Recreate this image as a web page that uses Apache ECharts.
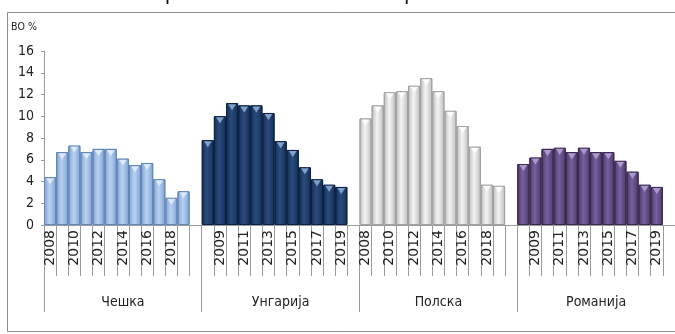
<!DOCTYPE html>
<html>
<head>
<meta charset="utf-8">
<script src="https://cdn.jsdelivr.net/npm/echarts@6/dist/echarts.min.js"></script>
<style>
  html, body { margin: 0; padding: 0; background: #ffffff; }
  #chart { width: 675px; height: 334px; }
</style>
</head>
<body>
<div id="chart"></div>
<script>
// Average unemployment rate, 2008–2019, in percent
const years = ['2008', '2009', '2010', '2011', '2012', '2013', '2014', '2015', '2016', '2017', '2018', '2019'];
const countries = ['Чешка', 'Унгарија', 'Полска', 'Романија'];
const czech   = [4.4, 6.7, 7.3, 6.7, 7.0, 7.0, 6.1, 5.5, 5.7, 4.2, 2.5, 3.1];
const hungary = [7.8, 10.0, 11.2, 11.0, 11.0, 10.3, 7.7, 6.9, 5.3, 4.2, 3.7, 3.5];
const poland  = [9.8, 11.0, 12.2, 12.3, 12.8, 13.5, 12.3, 10.5, 9.1, 7.2, 3.7, 3.6];
const romania = [5.6, 6.2, 7.0, 7.1, 6.7, 7.1, 6.7, 6.7, 5.9, 4.9, 3.7, 3.5];
const yTicks = { min: 0, max: 16, step: 2 };

const seriesValues = [czech, hungary, poland, romania];
const slotsPerGroup = years.length + 1; // one empty slot after each country

function cylinder(edge, mid) {
  return {
    type: 'linear', x: 0, y: 0, x2: 1, y2: 0,
    colorStops: [
      { offset: 0, color: edge },
      { offset: 0.45, color: mid },
      { offset: 1, color: edge }
    ]
  };
}

const styles = [
  { fill: cylinder('#7fa3d3', '#b9d1f0'), border: '#6286b8', cap: '#e4eefa' },
  { fill: cylinder('#142f56', '#2a4c7c'), border: '#0c2242', cap: '#8fb0db' },
  { fill: cylinder('#bdbdbd', '#f4f4f4'), border: '#a2a2a2', cap: '#ffffff' },
  { fill: cylinder('#4e3966', '#7660a0'), border: '#3a2a50', cap: '#b8a3d8' }
];

// Year labels along the axis, with a blank slot separating the countries;
// one bar series holds all countries, each bar styled by its country
const yearAxis = [];
const groupAxis = [];
const barData = [];
const capData = [];
countries.forEach(function (name, g) {
  years.forEach(function (y, i) {
    yearAxis.push(y);
    groupAxis.push(i === 6 ? name : '');
    barData.push({
      value: seriesValues[g][i],
      itemStyle: { color: styles[g].fill, borderColor: styles[g].border, borderWidth: 1 }
    });
    capData.push({
      value: seriesValues[g][i],
      itemStyle: { color: styles[g].cap }
    });
  });
  yearAxis.push('');
  groupAxis.push('');
  barData.push('-');
  capData.push('-');
});

const chart = echarts.init(document.getElementById('chart'), null, { renderer: 'canvas' });
chart.setOption({
  animation: false,
  backgroundColor: '#ffffff',
  title: {
    text: 'Просечна стапка на невработеност',
    left: 'center',
    top: -15,
    padding: 0,
    textStyle: { fontFamily: 'DejaVu Sans', fontSize: 20, fontWeight: 'normal', color: '#111' }
  },
  graphic: [{
    type: 'rect',
    shape: { x: 7.5, y: 12.5, width: 700, height: 319 },
    style: { fill: 'none', stroke: '#8c8c8c', lineWidth: 1 },
    z: -10,
    silent: true
  }],
  grid: { left: 44, right: -9, top: 51, bottom: 109, containLabel: false },
  xAxis: [{
    type: 'category',
    data: yearAxis,
    position: 'bottom',
    axisLine: { show: true, lineStyle: { color: '#9a9a9a', width: 1 } },
    axisTick: { show: true, interval: 0, length: 51, lineStyle: { color: '#9a9a9a' } },
    axisLabel: {
      interval: 1,
      rotate: 90,
      margin: 5,
      fontFamily: 'DejaVu Sans',
      fontSize: 14,
      color: '#222'
    },
    splitLine: { show: false }
  }, {
    type: 'category',
    data: groupAxis,
    position: 'bottom',
    axisLine: { show: false },
    axisTick: {
      show: true,
      interval: function (i) { return i % slotsPerGroup === 0; },
      length: 87,
      lineStyle: { color: '#9a9a9a' }
    },
    axisLabel: {
      interval: 0,
      margin: 70,
      fontFamily: 'Liberation Sans Narrow, DejaVu Sans Condensed, DejaVu Sans',
      fontSize: 14,
      color: '#222'
    },
    splitLine: { show: false }
  }],
  yAxis: {
    type: 'value',
    min: yTicks.min,
    max: yTicks.max,
    interval: yTicks.step,
    name: 'ВО %',
    nameLocation: 'end',
    nameGap: 24,
    nameTextStyle: {
      fontFamily: 'Liberation Sans Narrow, DejaVu Sans Condensed, DejaVu Sans',
      fontSize: 10.5,
      color: '#222',
      align: 'right',
      verticalAlign: 'middle',
      padding: [0, 7, 0, 0]
    },
    axisLine: { show: true, lineStyle: { color: '#9a9a9a' } },
    axisTick: { show: true, length: 3, lineStyle: { color: '#9a9a9a' } },
    axisLabel: {
      margin: 10,
      fontFamily: 'Liberation Sans Narrow, DejaVu Sans Condensed, DejaVu Sans',
      fontSize: 14,
      color: '#222'
    },
    splitLine: { show: false }
  },
  series: [{
    name: 'Невработеност',
    type: 'bar',
    xAxisIndex: 0,
    barCategoryGap: '0%',
    data: barData
  }, {
    name: 'Врв',
    type: 'scatter',
    xAxisIndex: 0,
    data: capData,
    symbol: 'triangle',
    symbolRotate: 180,
    symbolSize: [8, 6],
    symbolOffset: [0, 4],
    itemStyle: { opacity: 0.85 },
    silent: true,
    z: 5
  }]
});

// Make each bar fill its whole category band so neighbouring years touch
const band = chart.convertToPixel({ xAxisIndex: 0 }, 1) - chart.convertToPixel({ xAxisIndex: 0 }, 0);
chart.setOption({ series: [{ barWidth: band }] });
</script>
</body>
</html>
